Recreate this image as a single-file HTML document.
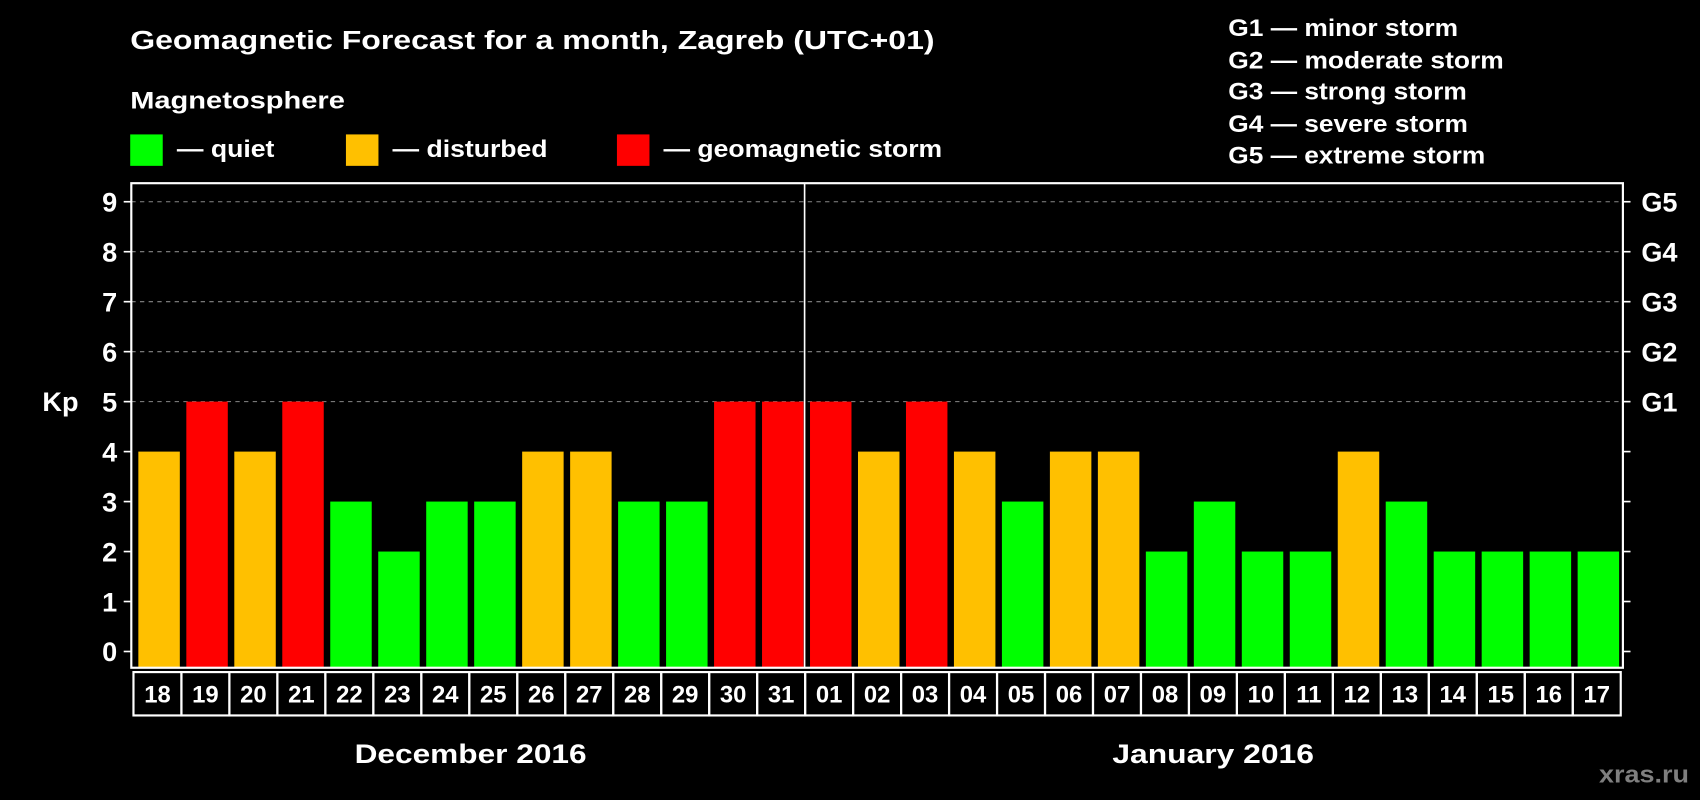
<!DOCTYPE html>
<html><head><meta charset="utf-8"><style>
html,body{margin:0;padding:0;background:#000;width:1700px;height:800px;overflow:hidden}
text{font-family:"Liberation Sans",Arial,sans-serif;font-weight:bold;fill:#fff}
</style></head><body>
<svg id="chart" width="1700" height="800" viewBox="0 0 1568 738" xmlns="http://www.w3.org/2000/svg">
<rect x="0" y="0" width="1568" height="738" fill="#000"/>
<text x="120" y="45" font-size="24" textLength="742" lengthAdjust="spacingAndGlyphs">Geomagnetic Forecast for a month, Zagreb (UTC+01)</text>
<text x="120" y="100" font-size="22" textLength="198" lengthAdjust="spacingAndGlyphs">Magnetosphere</text>
<rect x="120" y="124" width="30" height="29" fill="#00ff00"/>
<text x="163" y="145" font-size="22" textLength="90" lengthAdjust="spacingAndGlyphs">— quiet</text>
<rect x="319" y="124" width="30" height="29" fill="#ffc000"/>
<text x="362" y="145" font-size="22" textLength="143" lengthAdjust="spacingAndGlyphs">— disturbed</text>
<rect x="569" y="124" width="30" height="29" fill="#ff0000"/>
<text x="612" y="145" font-size="22" textLength="257" lengthAdjust="spacingAndGlyphs">— geomagnetic storm</text>
<g font-size="22">
<text x="1133" y="33" textLength="212" lengthAdjust="spacingAndGlyphs">G1 — minor storm</text>
<text x="1133" y="63" textLength="254" lengthAdjust="spacingAndGlyphs">G2 — moderate storm</text>
<text x="1133" y="92" textLength="220" lengthAdjust="spacingAndGlyphs">G3 — strong storm</text>
<text x="1133" y="122" textLength="221" lengthAdjust="spacingAndGlyphs">G4 — severe storm</text>
<text x="1133" y="151" textLength="237" lengthAdjust="spacingAndGlyphs">G5 — extreme storm</text>
</g>
<text x="39" y="379" font-size="25">Kp</text>
<g id="plot"></g>
<text x="327" y="704" font-size="25" textLength="214" lengthAdjust="spacingAndGlyphs">December 2016</text>
<text x="1026" y="704" font-size="25" textLength="186" lengthAdjust="spacingAndGlyphs">January 2016</text>
<text x="1475" y="722" font-size="22" style="fill:#7f7f7f" textLength="83" lengthAdjust="spacingAndGlyphs">xras.ru</text>
</svg>
<script>
const days = ["18","19","20","21","22","23","24","25","26","27","28","29","30","31","01","02","03","04","05","06","07","08","09","10","11","12","13","14","15","16","17"];
const kpValues = [4,5,4,5,3,2,3,3,4,4,3,3,5,5,5,4,5,4,3,4,4,2,3,2,2,4,3,2,2,2,2];
const yTicks = [0,1,2,3,4,5,6,7,8,9];
const gLabels = ["G1","G2","G3","G4","G5"];
const gLevels = [5,6,7,8,9];

const NS = "http://www.w3.org/2000/svg";
const plot = document.getElementById("plot");
const L = 121, R = 1497, T = 169, B = 616;
const x0 = 123, slot = (1495 - 123) / days.length;
const y = v => 601 - v * 46.1;
const xs = i => x0 + i * slot;
function mk(tag, attrs, parent) {
  const e = document.createElementNS(NS, tag);
  for (const k in attrs) e.setAttribute(k, attrs[k]);
  (parent || plot).appendChild(e);
  return e;
}
yTicks.forEach(v => {
  if (v >= 5) {
    const g = mk("line", {x1: L, x2: R, y1: y(v), y2: y(v), stroke: "#888", "stroke-dasharray": "4,4", "stroke-width": 1});
    
    
  }
  mk("line", {x1: L - 7, x2: L, y1: y(v), y2: y(v), stroke: "#fff", "stroke-width": 1.5});
  mk("line", {x1: R, x2: R + 7, y1: y(v), y2: y(v), stroke: "#fff", "stroke-width": 1.5});
  const t = mk("text", {x: 108, y: y(v) + 9, "font-size": 25, "text-anchor": "end"});
  t.textContent = v;
  
  
});
gLevels.forEach((v, i) => {
  const t = mk("text", {x: 1514, y: y(v) + 9, "font-size": 25});
  t.textContent = gLabels[i];
  
  
});
kpValues.forEach((v, i) => {
  const col = v >= 5 ? "#ff0000" : (v >= 4 ? "#ffc000" : "#00ff00");
  const b = mk("rect", {x: xs(i) + 4.5, y: y(v), width: slot - 6, height: B - y(v), fill: col});
  
  
});
const fr = mk("rect", {x: L, y: T, width: R - L, height: B - T, fill: "none", stroke: "#fff", "stroke-width": 2});


const div = mk("line", {x1: xs(14) - 0.5, x2: xs(14) - 0.5, y1: T, y2: B, stroke: "#fff", "stroke-width": 1.5});


days.forEach((d, i) => {
  const r = mk("rect", {x: xs(i), y: 620, width: slot, height: 40, fill: "none", stroke: "#fff", "stroke-width": 2});
  
  
  const t = mk("text", {x: xs(i) + slot / 2, y: 648, "font-size": 22, "text-anchor": "middle"});
  t.textContent = d;
  
  
});
</script>
</body></html>
